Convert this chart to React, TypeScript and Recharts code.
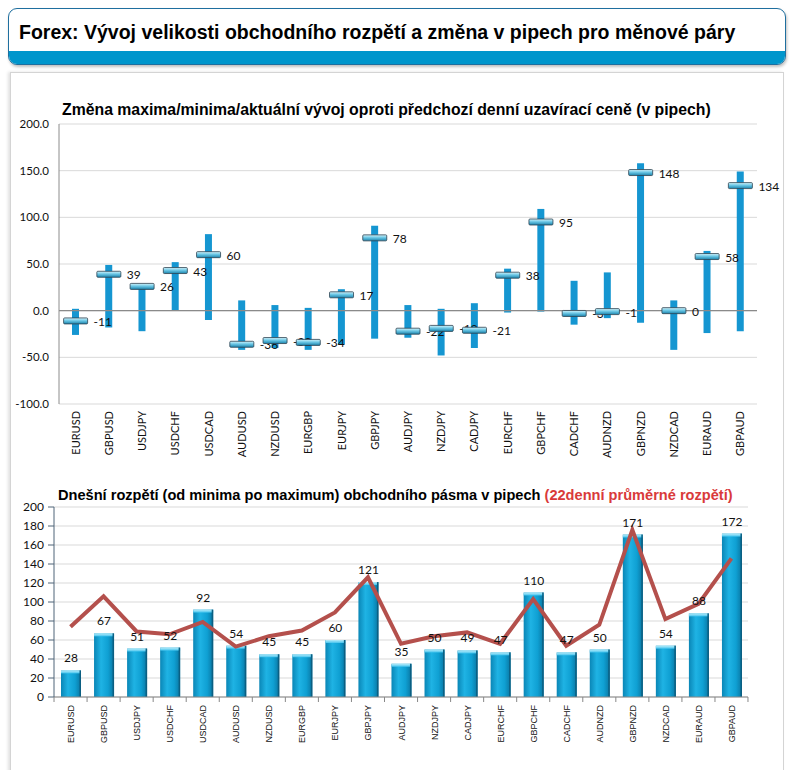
import { ComposedChart, Bar, Line, XAxis, YAxis, CartesianGrid, ReferenceLine, LabelList } from 'recharts';

const pairs = ['EURUSD', 'GBPUSD', 'USDJPY', 'USDCHF', 'USDCAD', 'AUDUSD', 'NZDUSD', 'EURGBP', 'EURJPY', 'GBPJPY', 'AUDJPY', 'NZDJPY', 'CADJPY', 'EURCHF', 'GBPCHF', 'CADCHF', 'AUDNZD', 'GBPNZD', 'NZDCAD', 'EURAUD', 'GBPAUD'];

// horní graf: maximum / minimum / aktuální změna (pipy)
const highs = [2, 49, 28, 52, 82, 11, 6, 3, 23, 91, 6, 2, 8, 45, 109, 32, 41, 158, 11, 64, 149];
const lows = [-26, -18, -22, 0, -10, -42, -40, -42, -36, -30, -29, -48, -40, -2, -1, -15, -8, -13, -42, -24, -22];
const current = [-11, 39, 26, 43, 60, -36, -32, -34, 17, 78, -22, -19, -21, 38, 95, -3, -1, 148, 0, 58, 134];
const changeTicks = [-100, -50, 0, 50, 100, 150, 200];

// dolní graf: dnešní rozpětí a 22denní průměr
const ranges = [28, 67, 51, 52, 92, 54, 45, 45, 60, 121, 35, 50, 49, 47, 110, 47, 50, 171, 54, 88, 172];
const avg22 = [74, 106, 69, 66, 79, 53, 64, 70, 89, 126, 56, 64, 68, 56, 103, 54, 76, 176, 82, 98, 146];
const rangeTicks = [0, 20, 40, 60, 80, 100, 120, 140, 160, 180, 200];

const changeData = pairs.map((p, i) => ({ pair: p, span: [lows[i], highs[i]], cur: current[i] }));
const rangeData = pairs.map((p, i) => ({ pair: p, range: ranges[i], avg: avg22[i] }));

const FONT = "'Liberation Sans', Arial, sans-serif";
const LABEL = "Lato, 'Liberation Sans', Arial, sans-serif";

const Marker = (props: any) => {
  const { cx, cy, index, value } = props;
  if (cx == null || cy == null) return null;
  return (
    <g key={`m-${index}`}>
      <rect x={cx - 12} y={cy - 3} width={24} height={6} rx={1} fill="url(#markGrad)" stroke="#2d4350" strokeWidth={0.8} />
      <text x={cx + 18} y={cy + 5} fontSize={12} fontFamily={LABEL} fill="#111">{value}</text>
    </g>
  );
};

const TopTick = (props: any) => {
  const { x, y, payload } = props;
  return (
    <g transform={`translate(${x},${y})`}>
      <text transform="rotate(-90)" x={-7} y={4} textAnchor="end" fontSize={11} fontFamily={LABEL} fill="#111">{payload.value}</text>
    </g>
  );
};

const BottomTick = (props: any) => {
  const { x, y, payload, index } = props;
  return (
    <g transform={`translate(${x},${y})`}>
      <line x1={-16.5} y1={0} x2={-16.5} y2={5} stroke="#888" />
      {index === pairs.length - 1 && <line x1={16.5} y1={0} x2={16.5} y2={5} stroke="#888" />}
      <text transform="rotate(-90)" x={-8} y={3.5} textAnchor="end" fontSize={9} fontFamily={FONT} fill="#111">{payload.value}</text>
    </g>
  );
};

const RangeBar = (props: any) => {
  const { x, y, width, height } = props;
  if (!height || height <= 0) return null;
  return (
    <g>
      <rect x={x} y={y} width={width} height={height} fill="url(#barGrad)" />
      <rect x={x} y={y} width={width} height={3} fill="url(#capGrad)" />
      <rect x={x + width - 1.5} y={y} width={1.5} height={height} fill="#0b5f82" />
    </g>
  );
};

export default function App() {
  return (
    <div style={{ position: 'absolute', left: 0, top: 0, width: 795, height: 770, background: '#fff', fontFamily: FONT, overflow: 'hidden' }}>
      <svg width={0} height={0} style={{ position: 'absolute' }}>
        <defs>
          <linearGradient id="markGrad" x1="0" y1="0" x2="0" y2="1">
            <stop offset="0%" stopColor="#d6f4fb" />
            <stop offset="45%" stopColor="#6cc8e6" />
            <stop offset="100%" stopColor="#1a82ab" />
          </linearGradient>
          <linearGradient id="barGrad" x1="0" y1="0" x2="1" y2="0">
            <stop offset="0%" stopColor="#0a86b6" />
            <stop offset="35%" stopColor="#1fb3e4" />
            <stop offset="70%" stopColor="#0fa0d3" />
            <stop offset="100%" stopColor="#0a76a2" />
          </linearGradient>
          <linearGradient id="capGrad" x1="0" y1="0" x2="0" y2="1">
            <stop offset="0%" stopColor="#b8ecfa" />
            <stop offset="100%" stopColor="#45c4ee" />
          </linearGradient>
        </defs>
      </svg>

      {/* hlavička */}
      <div style={{ position: 'absolute', left: 8, top: 8, width: 776, height: 55, border: '1.5px solid #1f6f9f', borderRadius: 9, overflow: 'hidden', background: '#fff', boxShadow: '1px 2px 3px rgba(0,0,0,0.25)' }}>
        <div style={{ position: 'absolute', left: 10, top: 12, fontSize: 19.5, fontWeight: 'bold', color: '#000', whiteSpace: 'nowrap' }}>
          Forex: Vývoj velikosti obchodního rozpětí a změna v pipech pro měnové páry
        </div>
        <div style={{ position: 'absolute', left: 0, right: 0, bottom: 0, height: 13, background: '#0096cc' }} />
      </div>

      {/* panel s grafy */}
      <div style={{ position: 'absolute', left: 10, top: 72, width: 772, height: 720, border: '1px solid #d4d4d4', boxShadow: '-2px 0 3px rgba(0,0,0,0.12)' }} />

      <div style={{ position: 'absolute', left: 62, top: 101, fontSize: 15.8, fontWeight: 'bold', color: '#000', whiteSpace: 'nowrap' }}>
        Změna maxima/minima/aktuální vývoj oproti předchozí denní uzavírací ceně (v pipech)
      </div>

      <div style={{ position: 'absolute', left: 0, top: 95 }}>
        <ComposedChart width={795} height={380} data={changeData} margin={{ top: 29, right: 38, bottom: 0, left: 0 }}>
          <CartesianGrid vertical={false} stroke="#d9d9d9" />
          <XAxis dataKey="pair" interval={0} height={71} axisLine={false} tickLine={false} tickSize={0} tickMargin={0} tick={<TopTick />} />
          <YAxis width={59} domain={[-100, 200]} ticks={changeTicks} interval={0} tickFormatter={(v: number) => v.toFixed(1)}
            axisLine={{ stroke: '#8c8c8c' }} tickLine={false} tickSize={0} tickMargin={10}
            tick={{ fontSize: 11.5, fontFamily: LABEL, fill: '#111' }} />
          <ReferenceLine y={0} stroke="#8a8a8a" strokeWidth={1.2} />
          <Bar dataKey="span" barSize={7} fill="#1596d1" isAnimationActive={false} />
          <Line dataKey="cur" stroke="none" dot={<Marker />} activeDot={false} legendType="none" isAnimationActive={false} />
        </ComposedChart>
      </div>

      <div style={{ position: 'absolute', left: 58, top: 487, fontSize: 14.6, fontWeight: 'bold', color: '#000', whiteSpace: 'nowrap' }}>
        Dnešní rozpětí (od minima po maximum) obchodního pásma v pipech <span style={{ color: '#d93a3a' }}>(22denní průměrné rozpětí)</span>
      </div>

      <div style={{ position: 'absolute', left: 0, top: 490 }}>
        <ComposedChart width={795} height={267} data={rangeData} margin={{ top: 17, right: 47, bottom: 0, left: 0 }}>
          <CartesianGrid vertical={false} stroke="#d9d9d9" />
          <XAxis dataKey="pair" interval={0} height={60} axisLine={{ stroke: '#888' }} tickLine={false} tickSize={0} tickMargin={0} tick={<BottomTick />} />
          <YAxis width={54} domain={[0, 200]} ticks={rangeTicks} interval={0}
            axisLine={{ stroke: '#4f6478' }} tickLine={{ stroke: '#4f6478' }} tickSize={6} tickMargin={4}
            tick={{ fontSize: 12, fontFamily: LABEL, fill: '#111' }} />
          <Bar dataKey="range" barSize={20} fill="#1596d1" shape={<RangeBar />} isAnimationActive={false}>
            <LabelList dataKey="range" position="top" offset={8} fontSize={12} fontFamily={LABEL} fill="#111" />
          </Bar>
          <Line dataKey="avg" type="linear" stroke="#b4504c" strokeWidth={4} dot={false} activeDot={false} isAnimationActive={false} />
        </ComposedChart>
      </div>
    </div>
  );
}
